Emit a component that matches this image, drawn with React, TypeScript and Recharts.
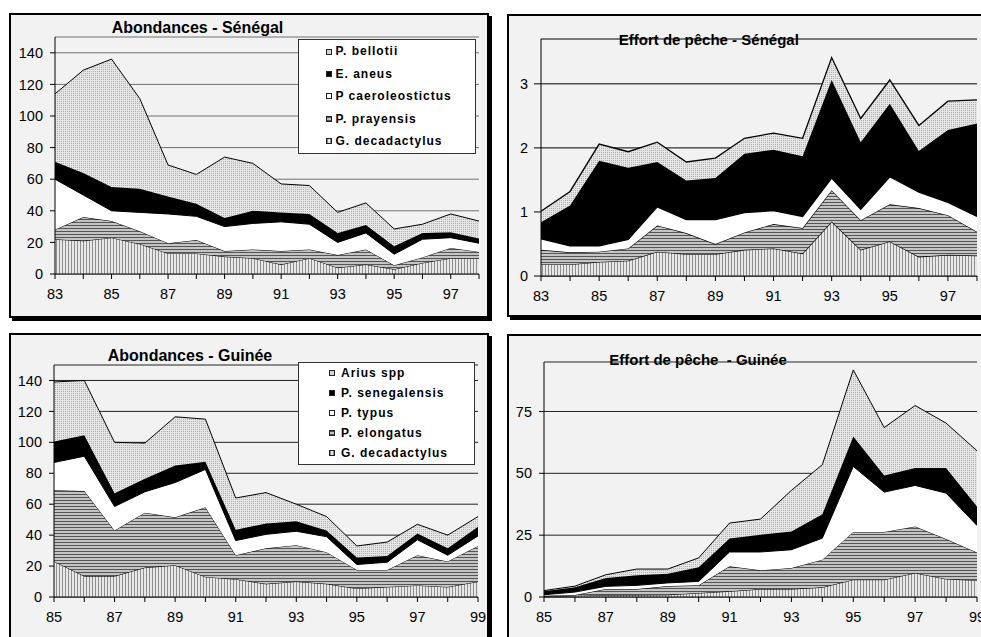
import React from 'react';
import { AreaChart, Area, XAxis, YAxis, CartesianGrid } from 'recharts';

// ---------- Data ----------
const senYears = [83, 84, 85, 86, 87, 88, 89, 90, 91, 92, 93, 94, 95, 96, 97, 98];
const senAbDecad = [22, 21, 23, 19, 13, 13, 11, 10, 6, 10, 4, 6, 3, 7, 10, 10];
const senAbPray = [6, 15, 10.5, 8, 6.5, 8.5, 3.5, 5.5, 8.5, 5.5, 8, 9.5, 2.5, 3.5, 6.5, 4];
const senAbCaer = [32, 14, 6.5, 12, 18.5, 15, 15.5, 16.5, 18.5, 16, 8, 10.5, 7, 11.5, 6.5, 5.5];
const senAbAneus = [11, 14, 15, 15, 11, 8, 5.5, 8, 6, 6.5, 6, 5, 5, 4, 3.5, 3];
const senAbBellotii = [43, 65, 81, 57, 20, 18.5, 38.5, 30, 18, 18, 13, 14, 11, 5.5, 11.5, 11];

const senEfDecad = [0.18, 0.18, 0.22, 0.24, 0.38, 0.34, 0.34, 0.41, 0.43, 0.35, 0.85, 0.41, 0.54, 0.30, 0.33, 0.32];
const senEfPray = [0.23, 0.19, 0.16, 0.19, 0.41, 0.33, 0.16, 0.27, 0.38, 0.40, 0.49, 0.46, 0.58, 0.76, 0.62, 0.37];
const senEfCaer = [0.17, 0.10, 0.09, 0.14, 0.29, 0.21, 0.38, 0.31, 0.21, 0.18, 0.19, 0.17, 0.43, 0.25, 0.20, 0.24];
const senEfAneus = [0.26, 0.63, 1.33, 1.12, 0.70, 0.61, 0.65, 0.92, 0.95, 0.94, 1.53, 1.05, 1.14, 0.64, 1.13, 1.45];
const senEfBellotii = [0.17, 0.22, 0.26, 0.25, 0.31, 0.29, 0.31, 0.24, 0.26, 0.28, 0.35, 0.37, 0.37, 0.40, 0.45, 0.37];

const guiYears = [85, 86, 87, 88, 89, 90, 91, 92, 93, 94, 95, 96, 97, 98, 99];
const guiAbDecad = [23, 13.5, 13.5, 19, 20.5, 13, 11.5, 8.5, 10, 8.5, 5.5, 6.5, 7.5, 6.5, 10];
const guiAbElong = [46, 55, 29.5, 35.5, 31, 45, 15.5, 23, 23.5, 20.5, 12, 11, 19.5, 16.5, 23];
const guiAbTypus = [18, 22.5, 15.5, 13.5, 22.5, 24.5, 9.5, 9, 9, 10, 3.5, 5, 10, 4, 6.5];
const guiAbSeneg = [13.5, 13.5, 8.5, 8.5, 11, 5, 7, 7, 6.5, 4, 4.5, 4, 4, 4.5, 6];
const guiAbArius = [38.5, 35.5, 33, 23, 31.5, 27.5, 20.5, 20, 11, 9, 7.5, 9, 6, 8.5, 6.5];

const guiEfDecad = [0.3, 0.5, 0.7, 0.8, 0.9, 1.6, 2.3, 3.2, 3.2, 3.9, 7, 7, 9.7, 7.3, 6.7];
const guiEfElong = [0.2, 0.3, 2.5, 2.4, 3.5, 3.1, 10.1, 7.6, 8.5, 11.2, 19.3, 19.3, 18.8, 16.1, 11.3];
const guiEfTypus = [0.4, 1.2, 1.1, 1.5, 1.3, 1.6, 5.8, 7.4, 7.4, 8.7, 26.5, 16.1, 16.6, 18.6, 10.9];
const guiEfSeneg = [1.4, 1.9, 3.4, 4.1, 3.7, 5.7, 5.4, 7, 7.4, 9.7, 12.1, 6.7, 7, 10.1, 7.7];
const guiEfArius = [0.3, 0.5, 1.3, 2.5, 1.9, 3.8, 6.3, 6.3, 16.6, 20, 26.9, 19.4, 25.3, 18.2, 22.5];

const senNames = ['G. decadactylus', 'P. prayensis', 'P caeroleostictus', 'E. aneus', 'P. bellotii'];
const guiNames = ['G. decadactylus', 'P. elongatus', 'P. typus', 'P. senegalensis', 'Arius spp'];
const patternKinds = ['vert', 'horiz', 'white', 'black', 'dots'];

const senAbTicks = [0, 20, 40, 60, 80, 100, 120, 140];
const senEfTicks = [0, 1, 2, 3];
const guiAbTicks = [0, 20, 40, 60, 80, 100, 120, 140];
const guiEfTicks = [0, 25, 50, 75];

const FONT = 'Arial, "Liberation Sans", sans-serif';

function buildRows(years: number[], series: number[][]) {
  return years.map((y, i) => {
    const row: any = { year: y };
    series.forEach((s, k) => {
      row['s' + k] = s[i];
    });
    return row;
  });
}

const senAbRows = buildRows(senYears, [senAbDecad, senAbPray, senAbCaer, senAbAneus, senAbBellotii]);
const senEfRows = buildRows(senYears, [senEfDecad, senEfPray, senEfCaer, senEfAneus, senEfBellotii]);
const guiAbRows = buildRows(guiYears, [guiAbDecad, guiAbElong, guiAbTypus, guiAbSeneg, guiAbArius]);
const guiEfRows = buildRows(guiYears, [guiEfDecad, guiEfElong, guiEfTypus, guiEfSeneg, guiEfArius]);

function fillFor(kind: string, p: string) {
  if (kind === 'white') return '#ffffff';
  if (kind === 'black') return '#000000';
  return `url(#${p}-${kind})`;
}

function swatchBg(kind: string) {
  if (kind === 'vert') return 'repeating-linear-gradient(90deg, #8a8a8a 0 1px, #e6e6e6 1px 3px)';
  if (kind === 'horiz') return 'repeating-linear-gradient(0deg, #555 0 1px, #c4c4c4 1px 3px)';
  if (kind === 'dots') return '#d4d4d4';
  if (kind === 'black') return '#000';
  return '#fff';
}

type ChartProps = {
  id: string;
  left: number;
  top: number;
  width: number;
  height: number;
  margin: any;
  rows: any[];
  names: string[];
  years: number[];
  yDomain: [number, number];
  yTicks: number[];
  yWidth: number;
  yTickSize: number;
  yTickMargin: number;
  gridColor: string;
  strokeWidth: number;
};

function StackChart(props: ChartProps) {
  const { id, rows, names, years } = props;
  const first = years[0];
  return (
    <div style={{ position: 'absolute', left: props.left, top: props.top, width: props.width, height: props.height }}>
      <AreaChart width={props.width} height={props.height} data={rows} margin={props.margin}>
        <defs>
          <pattern id={`${id}-vert`} width="3" height="3" patternUnits="userSpaceOnUse">
            <rect width="3" height="3" fill="#e8e8e8" />
            <rect width="1" height="3" fill="#8f8f8f" />
          </pattern>
          <pattern id={`${id}-horiz`} width="3" height="3" patternUnits="userSpaceOnUse">
            <rect width="3" height="3" fill="#c4c4c4" />
            <rect width="3" height="1" fill="#555555" />
          </pattern>
          <pattern id={`${id}-dots`} width="2" height="2" patternUnits="userSpaceOnUse">
            <rect width="2" height="2" fill="#e6e6e6" />
            <rect width="1" height="1" fill="#b0b0b0" />
          </pattern>
        </defs>
        <CartesianGrid horizontal={true} vertical={false} stroke={props.gridColor} strokeWidth={1} />
        <XAxis
          dataKey="year"
          type="number"
          domain={[years[0], years[years.length - 1]]}
          ticks={years}
          interval={0}
          tickFormatter={(v: number) => ((v - first) % 2 === 0 ? String(v) : '')}
          tickSize={5}
          tickMargin={10}
          height={30}
          axisLine={{ stroke: '#000' }}
          tickLine={{ stroke: '#000' }}
          tick={{ fill: '#000', fontSize: 14.5, fontFamily: FONT }}
          allowDataOverflow={true}
        />
        <YAxis
          type="number"
          domain={props.yDomain}
          ticks={props.yTicks}
          interval={0}
          width={props.yWidth}
          tickSize={props.yTickSize}
          tickMargin={props.yTickMargin}
          axisLine={{ stroke: '#000' }}
          tickLine={{ stroke: '#000' }}
          tick={{ fill: '#000', fontSize: 14.5, fontFamily: FONT }}
          allowDataOverflow={true}
        />
        {names.map((n, k) => (
          <Area
            key={n}
            type="linear"
            dataKey={'s' + k}
            name={n}
            stackId="a"
            stroke="#000"
            strokeWidth={props.strokeWidth}
            fill={fillFor(patternKinds[k], id)}
            fillOpacity={1}
            dot={false}
            activeDot={false}
            isAnimationActive={false}
          />
        ))}
      </AreaChart>
    </div>
  );
}

function Frame({ left, top, width, height }: { left: number; top: number; width: number; height: number }) {
  return (
    <div
      style={{
        position: 'absolute',
        left,
        top,
        width,
        height,
        boxSizing: 'border-box',
        border: '2px solid #000',
        boxShadow: '3px 3px 0 #000',
        background: '#f2f2f2',
      }}
    />
  );
}

function Title({ text, cx, baseline, fs }: { text: string; cx: number; baseline: number; fs: number }) {
  return (
    <div
      style={{
        position: 'absolute',
        left: cx - 160,
        width: 320,
        top: baseline - 0.847 * fs,
        textAlign: 'center',
        fontFamily: FONT,
        fontWeight: 'bold',
        fontSize: fs,
        lineHeight: 1,
        whiteSpace: 'pre',
        color: '#000',
      }}
    >
      {text}
    </div>
  );
}

function LegendBox({
  names,
  left,
  top,
  width,
  height,
  rowH,
  firstOffset,
  markerX,
  textX,
}: {
  names: string[];
  left: number;
  top: number;
  width: number;
  height: number;
  rowH: number;
  firstOffset: number;
  markerX: number;
  textX: number;
}) {
  const order = [4, 3, 2, 1, 0];
  return (
    <div
      style={{
        position: 'absolute',
        left,
        top,
        width,
        height,
        boxSizing: 'border-box',
        border: '1px solid #333',
        background: '#fff',
      }}
    >
      {order.map((k, i) => (
        <div key={k} style={{ position: 'absolute', left: 0, top: firstOffset + i * rowH - rowH / 2, height: rowH, width: '100%' }}>
          <div
            style={{
              position: 'absolute',
              left: markerX,
              top: rowH / 2 - 3,
              width: 6,
              height: 6,
              boxSizing: 'border-box',
              border: '1px solid #222',
              background: swatchBg(patternKinds[k]),
            }}
          />
          <div
            style={{
              position: 'absolute',
              left: textX,
              top: 0,
              height: rowH,
              lineHeight: rowH + 'px',
              fontFamily: FONT,
              fontWeight: 'bold',
              fontSize: 12,
              letterSpacing: 1,
              whiteSpace: 'pre',
              color: '#000',
            }}
          >
            {names[k]}
          </div>
        </div>
      ))}
    </div>
  );
}

export default function App() {
  return (
    <div style={{ position: 'fixed', left: 0, top: 0, width: 981, height: 637, overflow: 'hidden', background: '#fff' }}>
      <Frame left={9} top={13} width={480} height={305} />
      <Frame left={507} top={14} width={500} height={303} />
      <Frame left={9} top={333} width={480} height={400} />
      <Frame left={507} top={334} width={500} height={400} />

      <StackChart
        id="sa"
        left={11}
        top={15}
        width={476}
        height={300}
        margin={{ top: 22, right: 8, left: 4, bottom: 11 }}
        rows={senAbRows}
        names={senNames}
        years={senYears}
        yDomain={[0, 150]}
        yTicks={senAbTicks}
        yWidth={40}
        yTickSize={5}
        yTickMargin={7}
        gridColor="#707070"
        strokeWidth={1}
      />
      <StackChart
        id="se"
        left={509}
        top={16}
        width={472}
        height={300}
        margin={{ top: 23, right: 4, left: 7, bottom: 10 }}
        rows={senEfRows}
        names={senNames}
        years={senYears}
        yDomain={[0, 3.7]}
        yTicks={senEfTicks}
        yWidth={25}
        yTickSize={7}
        yTickMargin={6}
        gridColor="#000"
        strokeWidth={1.3}
      />
      <StackChart
        id="ga"
        left={11}
        top={335}
        width={476}
        height={302}
        margin={{ top: 30, right: 9, left: 3, bottom: 10 }}
        rows={guiAbRows}
        names={guiNames}
        years={guiYears}
        yDomain={[0, 150]}
        yTicks={guiAbTicks}
        yWidth={40}
        yTickSize={5}
        yTickMargin={7}
        gridColor="#222"
        strokeWidth={1}
      />
      <StackChart
        id="ge"
        left={509}
        top={336}
        width={472}
        height={301}
        margin={{ top: 26, right: 4, left: 5, bottom: 10 }}
        rows={guiEfRows}
        names={guiNames}
        years={guiYears}
        yDomain={[0, 95]}
        yTicks={guiEfTicks}
        yWidth={30}
        yTickSize={5}
        yTickMargin={7}
        gridColor="#222"
        strokeWidth={1}
      />

      <Title text="Abondances - Sénégal" cx={197.5} baseline={33.3} fs={16} />
      <Title text="Effort de pêche - Sénégal" cx={708.8} baseline={45} fs={15} />
      <Title text="Abondances - Guinée" cx={190} baseline={361.7} fs={16} />
      <Title text="Effort de pêche  - Guinée" cx={698} baseline={364.3} fs={15} />

      <LegendBox
        names={senNames}
        left={297.5}
        top={39.3}
        width={178}
        height={115}
        rowH={22.5}
        firstOffset={11.2}
        markerX={27}
        textX={37}
      />
      <LegendBox
        names={guiNames}
        left={297.5}
        top={362.3}
        width={177}
        height={102.5}
        rowH={20}
        firstOffset={9.6}
        markerX={30}
        textX={42.5}
      />
    </div>
  );
}
